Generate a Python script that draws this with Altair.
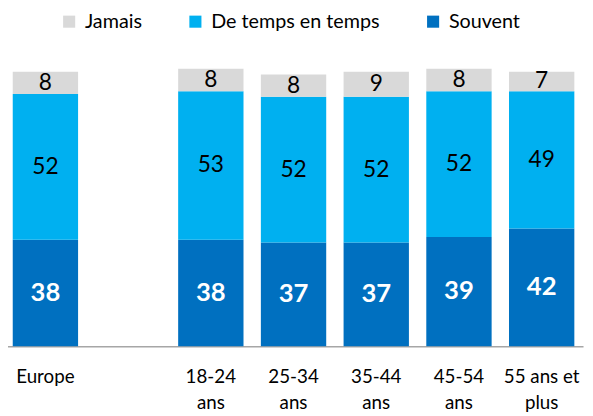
import altair as alt
import pandas as pd

categories = ["Europe", "18-24|ans", "25-34|ans", "35-44|ans", "45-54|ans", "55 ans et|plus"]
souvent = [38, 38, 37, 37, 39, 42]
temps = [52, 53, 52, 52, 52, 49]
jamais = [8, 8, 8, 9, 8, 7]

series_names = ["Jamais", "De temps en temps", "Souvent"]
series_colors = ["#D9D9D9", "#00B0F0", "#0070C0"]
stack_order = {"Souvent": 0, "De temps en temps": 1, "Jamais": 2}

x_domain = ["Europe", "gap", "18-24|ans", "25-34|ans", "35-44|ans", "45-54|ans", "55 ans et|plus"]

rows = []
for i, c in enumerate(categories):
    for name, vals in (("Souvent", souvent), ("De temps en temps", temps), ("Jamais", jamais)):
        rows.append({"cat": c, "serie": name, "value": vals[i], "ord": stack_order[name]})
df = pd.DataFrame(rows)

FONT = "Lato"

base = alt.Chart(df).transform_stack(
    stack="value", as_=["y0", "y1"], groupby=["cat"], sort=[alt.SortField("ord", order="ascending")]
).transform_calculate(mid="(datum.y0 + datum.y1) / 2")

x_scale = alt.Scale(domain=x_domain, range=[-4, 583], paddingInner=0.21, paddingOuter=0.105)

x_enc = alt.X(
    "cat:N",
    scale=x_scale,
    axis=alt.Axis(
        title=None,
        labelExpr="datum.value == 'gap' ? '' : split(datum.value, '|')",
        labelAngle=0,
        labelFont=FONT,
        labelFontSize=19,
        labelColor="#000000",
        labelPadding=22,
        labelLineHeight=26,
        ticks=False,
        domainColor="#A6A6A6",
        domainWidth=1.5,
        grid=False,
    ),
)

y_scale = alt.Scale(domain=[0, 100], nice=False)

bars = base.mark_bar().encode(
    x=x_enc,
    y=alt.Y("y0:Q", scale=y_scale, axis=None),
    y2="y1:Q",
    color=alt.Color(
        "serie:N",
        scale=alt.Scale(domain=series_names, range=series_colors),
        legend=alt.Legend(
            orient="none",
            legendX=52,
            legendY=-55,
            direction="horizontal",
            title=None,
            symbolType="square",
            symbolSize=150,
            symbolStrokeWidth=0,
            labelFont=FONT,
            labelFontSize=20,
            labelColor="#000000",
            labelOffset=6,
            labelLimit=400,
            columnPadding=44,
        ),
    ),
)

labels_dark = base.transform_filter("datum.serie != 'Souvent'").mark_text(
    font=FONT, fontSize=23, color="#000000", baseline="middle"
).encode(
    x=alt.X("cat:N", scale=x_scale),
    y=alt.Y("mid:Q", scale=y_scale),
    text="value:Q",
)

labels_light = base.transform_filter("datum.serie == 'Souvent'").mark_text(
    font=FONT, fontSize=26, fontWeight="bold", color="#FFFFFF", baseline="middle"
).encode(
    x=alt.X("cat:N", scale=x_scale),
    y=alt.Y("mid:Q", scale=y_scale),
    text="value:Q",
)

chart = alt.layer(bars, labels_dark, labels_light).properties(
    width=583,
    height=284,
    autosize=alt.AutoSizeParams(type="none"),
    padding={"top": 56, "left": 0, "right": 2, "bottom": 72},
).configure_view(stroke=None)

chart.save("out.html", embed_options={"renderer": "svg", "actions": False})
